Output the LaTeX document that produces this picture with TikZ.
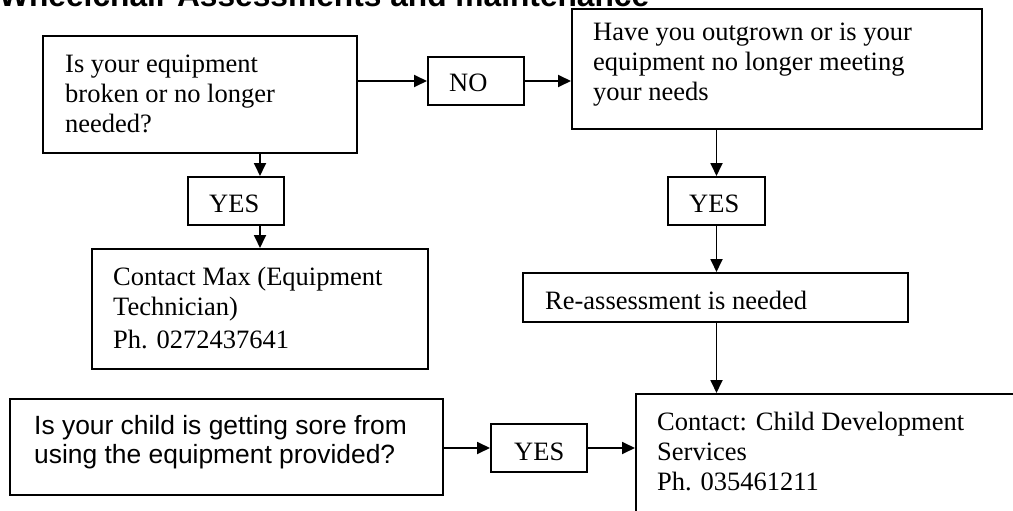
\documentclass[tikz,border=0pt]{standalone}
\usepackage{fontspec}
\setmainfont{Liberation Serif}
\newfontfamily\arialfont{Liberation Sans}
\usetikzlibrary{arrows.meta}
\tikzset{
  box/.style={draw=black, line width=2pt, rectangle, inner sep=0pt, fill=white},
  txt/.style={anchor=base west, inner sep=0pt, align=left, font=\fontsize{26.5}{30}\selectfont},
  atxt/.style={anchor=base west, inner sep=0pt, align=left, font=\arialfont\fontsize{26.4}{29}\selectfont},
  conn/.style={line width=1.8pt, -{Triangle[length=13pt,width=12pt]}}
}
\begin{document}
\begin{tikzpicture}[x=1pt,y=-1pt]
\useasboundingbox[fill=white] (0,0) rectangle (1013,511);
% title
\node[anchor=base west, inner sep=0pt, font=\arialfont\bfseries\fontsize{31.7}{36}\selectfont] (title) at (-1,7) {Wheelchair Assessments and maintenance};
% boxes
\node[box, minimum width=314, minimum height=117] (b1) at (200,94.5) {};
\node[box, minimum width=96, minimum height=48] (no) at (476,81) {};
\node[box, minimum width=410, minimum height=120] (b2) at (777,69) {};
\node[box, minimum width=96, minimum height=48] (y1) at (236,201) {};
\node[box, minimum width=97, minimum height=48] (y2) at (716.5,201) {};
\node[box, minimum width=336, minimum height=120] (max) at (260,309) {};
\node[box, minimum width=385, minimum height=49] (re) at (715.5,297.5) {};
\node[box, minimum width=433, minimum height=96] (q3) at (226.5,447) {};
\node[box, minimum width=96, minimum height=48] (y3) at (539,448) {};
\node[box, minimum width=394, minimum height=146] (cds) at (833,467) {};
% texts (base anchor = baseline of last line)
\node[txt] (t1) at (65,132) {Is your equipment\\broken or no longer\\needed?};
\node[txt] (tno) at (449,92) {NO};
\node[txt] (t2) at (593,101) {Have you outgrown or is your\\equipment no longer meeting\\your needs};
\node[txt] (ty1) at (209,212) {YES};
\node[txt] (ty2) at (689,212) {YES};
\node[txt] (tmax) at (113,348) {Contact Max (Equipment\\Technician)\\[3pt]Ph. 0272437641};
\node[txt] (tre) at (545,309) {Re-assessment is needed};
\node[atxt] (tq3) at (34,463) {Is your child is getting sore from\\using the equipment provided?};
\node[txt] (ty3) at (514,460) {YES};
\node[txt] (tcds) at (657,490) {Contact: Child Development\\Services\\Ph. 035461211};
% connectors
\coordinate (cx) at (260,0);
\draw[conn] (no.west -| b1.east) -- (no.west);
\draw[conn] (no.east) -- (no.east -| b2.west);
\draw[conn] (b1.south -| cx) -- (y1.north -| cx);
\draw[conn] (y1.south -| cx) -- (max.north -| cx);
\draw[conn] (y2.north |- b2.south) -- (y2.north);
\draw[conn] (y2.south) -- (y2.south |- re.north);
\draw[conn] (re.south -| y2.south) -- (cds.north -| y2.south);
\draw[conn] (y3.west -| q3.east) -- (y3.west);
\draw[conn] (y3.east) -- (y3.east -| cds.west);
\end{tikzpicture}
\end{document}
